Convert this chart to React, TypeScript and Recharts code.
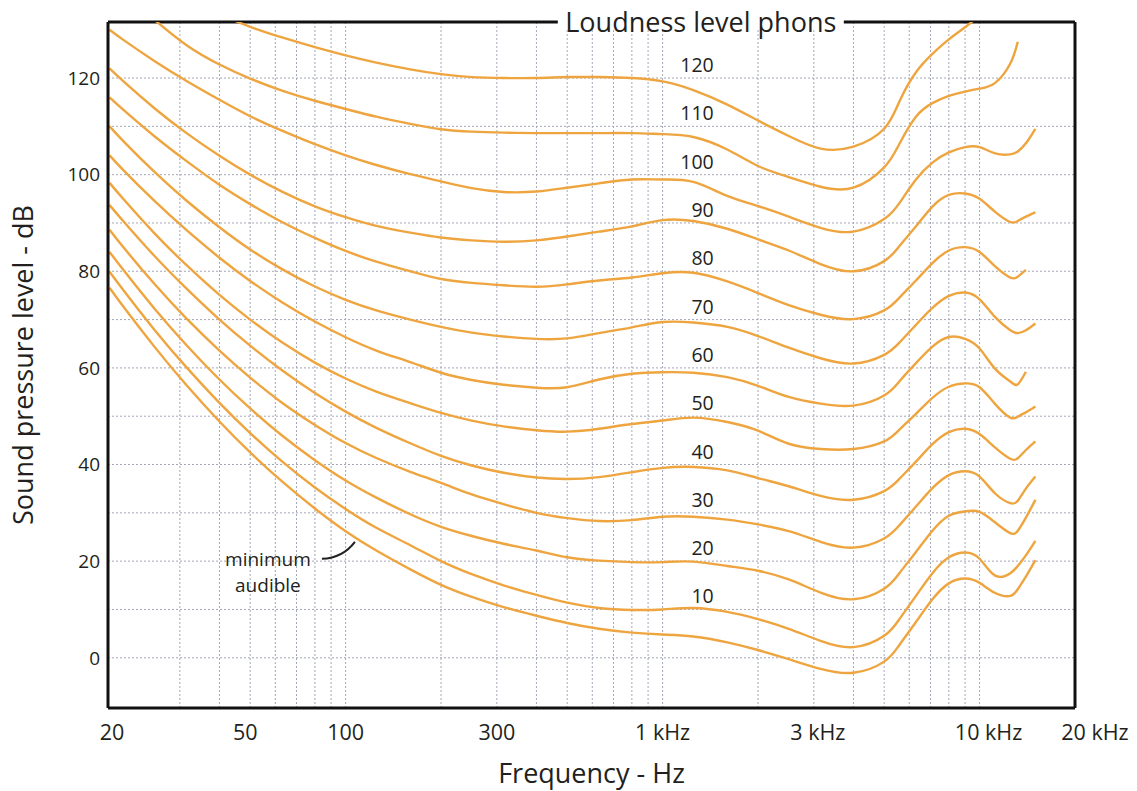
import React from 'react';
import { LineChart, Line, XAxis, YAxis, CartesianGrid, ReferenceLine, ReferenceDot } from 'recharts';

// frequencies (Hz) shared by every contour
const FREQS = [
  18, 20, 25, 31.5, 40, 50, 63, 80, 100, 125, 160, 200, 250, 315, 400, 500, 630, 800, 1000, 1250, 1600, 2000,
  2500, 3150, 4000, 5000, 5600, 6300, 7100, 8000, 9000, 10000, 11200, 12500, 13200, 14000, 15000,
];

// sound pressure level (dB) of each equal-loudness contour
const PHON_120 = [
  null, null, null, null, 133.2, 130.6, 128.4, 126.4, 124.7, 123.2, 121.8, 120.8, 120.2, 120, 120, 120.2, 120.2, 120,
  119.3, 117.5, 114.5, 111.2, 108, 105.4, 105.8, 109.5, 115.3, 121.2, 125, 128, 130.5, 133, null, null, null, null, null,
];
const PHON_110 = [
  null, null, 132, 126.8, 122.8, 119.9, 117.4, 115.3, 113.6, 112, 110.5, 109.4, 108.9, 108.7, 108.6, 108.6, 108.6,
  108.6, 108.4, 107.8, 105.2, 101.8, 99.5, 97.5, 97.3, 101.5, 106.5, 112, 114.8, 116.3, 117.2, 117.8, 119, 123, 127.5,
  null, null,
];
const PHON_100 = [
  130, 127.8, 123.5, 119.4, 115.5, 112.1, 109.1, 106.3, 104, 102, 100.1, 98.6, 97.2, 96.4, 96.5, 97.3, 98.2, 99, 99,
  98.5, 95.6, 93.5, 91.3, 89, 88.2, 90.8, 94.2, 99, 102.5, 104.6, 105.7, 105.7, 104.4, 104.2, 104.8, 106.5, 109.5,
];
const PHON_90 = [
  122, 119.2, 113.7, 108.6, 103.9, 100, 96.5, 93.45, 91.2, 89.4, 88, 87, 86.4, 86.1, 86.4, 87.2, 88.2, 89.3, 90.6,
  90.4, 88.8, 86.6, 84.3, 81.5, 80, 82.1, 85.3, 89.3, 93.4, 95.8, 96.1, 95, 92.3, 90.2, 90.4, 91.3, 92.2,
];
const PHON_80 = [
  116, 113.3, 107.9, 102.8, 97.9, 93.9, 90.2, 86.9, 84.2, 82, 80, 78.4, 77.6, 77.1, 76.8, 77.3, 78.1, 78.7, 79.6,
  79.7, 77.9, 75.5, 73, 71, 70.1, 71.9, 74.6, 78.1, 81.7, 84.3, 85, 84, 81, 78.7, 78.9, 80.3, null,
];
const PHON_70 = [
  110, 106.8, 100.5, 94.6, 89.1, 84.5, 80.45, 76.85, 74.1, 71.9, 70, 68.5, 67.3, 66.5, 66, 66.1, 67.2, 68.4, 69.5,
  69.4, 68.5, 66.6, 64.2, 62, 60.9, 62.7, 65.3, 68.9, 72.4, 74.9, 75.6, 74.2, 70.5, 67.8, 67.2, 67.8, 69.2,
];
const PHON_60 = [
  104, 100.8, 94.5, 88.5, 82.8, 78, 73.6, 69.6, 66.35, 63.6, 61.2, 59, 57.5, 56.5, 55.9, 56, 57.6, 58.8, 59.1, 59,
  58.1, 56.3, 54, 52.6, 52.2, 54.3, 57.3, 61, 64.4, 66.4, 66, 64, 59.8, 57.2, 56.6, 59.2, null,
];
const PHON_50 = [
  98.3, 94.8, 87.8, 81.25, 75.1, 70, 65.3, 61.1, 57.8, 55.1, 52.7, 50.7, 49.1, 47.9, 47.1, 46.8, 47.4, 48.4, 49.1,
  49.7, 48.8, 47, 44.3, 43.2, 43.2, 44.8, 47.3, 50.5, 53.8, 56.1, 56.8, 56, 52.5, 49.7, 49.9, 50.8, 52,
];
const PHON_40 = [
  93.7, 90.2, 83.1, 76.4, 70, 64.6, 59.5, 54.8, 50.95, 47.6, 44.4, 41.8, 39.8, 38.3, 37.3, 37, 37.4, 38.4, 39.3,
  39.5, 38.8, 37.2, 35.5, 33.5, 32.7, 34.5, 37.1, 40.6, 44.2, 46.7, 47.4, 46.3, 43.5, 41.2, 41.3, 43, 44.8,
];
const PHON_30 = [
  88.6, 84.8, 77.3, 70.2, 63.6, 58, 52.8, 48.2, 44.45, 41.35, 38.5, 36.2, 33.8, 31.8, 30, 28.9, 28.3, 28.5, 29.2,
  29.2, 28.6, 27.6, 26.2, 24, 22.8, 24.7, 27.5, 31.3, 35.1, 37.8, 38.6, 37.5, 34, 32, 32.5, 35, 37.5,
];
const PHON_20 = [
  84, 80.1, 72.2, 64.7, 57.6, 51.6, 46, 40.9, 36.7, 33.15, 29.7, 27.1, 25.2, 23.6, 22.2, 20.8, 20.1, 19.8, 19.8,
  19.9, 19, 18, 16.2, 13.5, 12.1, 14.3, 17.6, 21.9, 26.3, 29.4, 30.3, 30.2, 28, 25.8, 26.3, 29, 32.7,
];
const PHON_10 = [
  79.9, 75.9, 67.8, 60.1, 52.75, 46.5, 40.65, 35.25, 30.8, 26.9, 23.3, 20, 17.3, 15, 13, 11.4, 10.3, 9.9, 10, 10.3,
  9.5, 8, 6, 3.5, 2.2, 4.55, 8.1, 12.8, 17.5, 20.8, 21.8, 20.5, 17, 17.5, 19, 21.2, 24.2,
];
const MIN_AUDIBLE = [
  76.6, 72.5, 64.3, 56.4, 48.9, 42.5, 36.5, 30.9, 26.2, 22.2, 18.3, 15.1, 12.6, 10.5, 8.7, 7.2, 6, 5.2, 4.8, 4.4, 3.2,
  1.6, -0.3, -2.3, -3.1, -0.8, 2.75, 7.4, 12.1, 15.4, 16.4, 15.5, 13.4, 12.8, 14.2, 16.8, 20.2,
];

const PHON_LEVELS = [120, 110, 100, 90, 80, 70, 60, 50, 40, 30, 20, 10];
const CONTOURS = [
  PHON_120, PHON_110, PHON_100, PHON_90, PHON_80, PHON_70, PHON_60, PHON_50, PHON_40, PHON_30, PHON_20, PHON_10,
  MIN_AUDIBLE,
];
const SERIES_KEYS = ['p120', 'p110', 'p100', 'p90', 'p80', 'p70', 'p60', 'p50', 'p40', 'p30', 'p20', 'p10', 'minAudible'];

const X_TICKS = [20, 50, 100, 300, 1000, 3000, 10000, 20000];
const Y_TICKS = [0, 20, 40, 60, 80, 100, 120];
const X_GRID = [
  30, 40, 50, 60, 70, 80, 90, 100, 200, 300, 400, 500, 600, 700, 800, 900, 1000, 2000, 3000, 4000, 5000, 6000, 7000,
  8000, 9000, 10000,
];
const Y_GRID = [0, 10, 20, 30, 40, 50, 60, 70, 80, 90, 100, 110, 120];

const F_MIN = 17.8;
const F_MAX = 20000;
const DB_MIN = -10.4;
const DB_MAX = 131.6;
const LABEL_FREQ = 1450; // phon labels sit right-aligned here
const TITLE_FREQ = 1320;
const NOTE_FREQ = 107; // where the "minimum audible" leader ends
const NOTE_DB = 24;

const rows = FREQS.map((f, i) => {
  const row: Record<string, number | null> = { f };
  SERIES_KEYS.forEach((k, j) => {
    row[k] = CONTOURS[j][i];
  });
  return row;
});

const ORANGE = '#eea53f';
const INK = '#231f20';
const FRAME = '#111111';
const FONT = '"Open Sans", sans-serif';

const TICK_NUDGE: Record<number, number> = { 20: -12, 50: -5, 3000: 4, 10000: 9, 20000: 20 };

function FreqTick({ x, y, payload }: any) {
  const v = payload.value;
  const text = v >= 1000 ? `${v / 1000} kHz` : `${v}`;
  return (
    <text x={x + (TICK_NUDGE[v] ?? 0)} y={y + 24} textAnchor="middle" fontSize={21.5} fill={INK} fontFamily={FONT}>
      {text}
    </text>
  );
}

export default function App() {
  return (
    <div style={{ position: 'absolute', left: 0, top: 0, width: 1137, height: 791, background: '#fff', fontFamily: FONT }}>
      <LineChart width={1137} height={791} data={rows} margin={{ top: 22, right: 62, bottom: 0, left: 0 }}>
        <CartesianGrid
          stroke="#a3a7b8"
          strokeDasharray="2 2"
          horizontalValues={Y_GRID}
          verticalValues={X_GRID}
        />
        <XAxis
          dataKey="f"
          type="number"
          scale="log"
          domain={[F_MIN, F_MAX]}
          allowDataOverflow
          ticks={X_TICKS}
          interval={0}
          tick={<FreqTick />}
          tickLine={false}
          axisLine={{ stroke: FRAME, strokeWidth: 3 }}
          height={83}
          label={{
            content: ({ viewBox }: any) => (
              <text
                x={viewBox.x + viewBox.width / 2}
                y={viewBox.y + 75}
                textAnchor="middle"
                fontSize={27}
                fill={INK}
                fontFamily={FONT}
              >
                Frequency - Hz
              </text>
            ),
          }}
        />
        <YAxis
          type="number"
          domain={[DB_MIN, DB_MAX]}
          allowDataOverflow
          ticks={Y_TICKS}
          interval={0}
          width={108}
          tickLine={false}
          axisLine={{ stroke: FRAME, strokeWidth: 3 }}
          tick={{ fontSize: 19, fill: INK, fontFamily: FONT }}
          label={{
            content: ({ viewBox }: any) => (
              <text
                x={0}
                y={0}
                transform={`translate(33, ${viewBox.y + viewBox.height / 2}) rotate(-90)`}
                textAnchor="middle"
                fontSize={27}
                fill={INK}
                fontFamily={FONT}
              >
                Sound pressure level - dB
              </text>
            ),
          }}
        />
        <ReferenceLine y={DB_MAX} stroke={FRAME} strokeWidth={3} />
        <ReferenceLine x={F_MAX} stroke={FRAME} strokeWidth={3} />
        <ReferenceDot
          x={TITLE_FREQ}
          y={DB_MAX}
          r={0}
          shape={(d: any) => (
            <g>
              <rect x={d.cx - 143} y={d.cy - 6} width={286} height={12} fill="#fff" />
              <text x={d.cx} y={d.cy + 10} textAnchor="middle" fontSize={27} fill={INK} fontFamily={FONT}>
                Loudness level phons
              </text>
            </g>
          )}
        />
        {SERIES_KEYS.map((k) => (
          <Line
            key={k}
            dataKey={k}
            type="natural"
            stroke={ORANGE}
            strokeWidth={2.4}
            dot={false}
            activeDot={false}
            isAnimationActive={false}
          />
        ))}
        {PHON_LEVELS.map((p) => (
          <ReferenceDot
            key={`lbl${p}`}
            x={LABEL_FREQ}
            y={p}
            r={0}
            shape={(d: any) => (
              <text x={d.cx} y={d.cy - 6} textAnchor="end" fontSize={19.5} fill={INK} fontFamily={FONT}>
                {p}
              </text>
            )}
          />
        ))}
        <ReferenceDot
          x={NOTE_FREQ}
          y={NOTE_DB}
          r={0}
          shape={(d: any) => (
            <g>
              <path
                d={`M${d.cx - 33},${d.cy + 17} Q${d.cx - 12},${d.cy + 16} ${d.cx},${d.cy}`}
                fill="none"
                stroke={INK}
                strokeWidth={2}
              />
              <text x={d.cx - 87} y={d.cy + 24} textAnchor="middle" fontSize={19} fill={INK} fontFamily={FONT}>
                minimum
              </text>
              <text x={d.cx - 87} y={d.cy + 50} textAnchor="middle" fontSize={19} fill={INK} fontFamily={FONT}>
                audible
              </text>
            </g>
          )}
        />
      </LineChart>
    </div>
  );
}
